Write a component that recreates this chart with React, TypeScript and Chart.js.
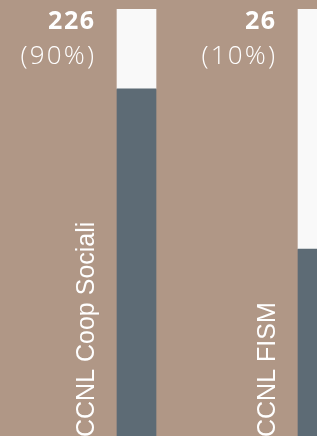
import React, { useEffect, useRef } from "react";
import { Chart, registerables } from "chart.js";

Chart.register(...registerables);

const categories = ["CCNL Coop Sociali", "CCNL FISM"];
const counts = [226, 26];
const percents = [90, 10];
const filledValues = [81.3, 43.8];
const remainderValues = [18.7, 56.2];

const BG = "#b09786";
const DARK = "#5d6b75";
const LIGHT = "#f9f9f9";

const labelPlugin = {
  id: "customLabels",
  afterDatasetsDraw(chart: any) {
    const ctx = chart.ctx;
    const base = chart.getDatasetMeta(0).data;
    const top = chart.getDatasetMeta(1).data;
    ctx.save();
    ctx.fillStyle = "#ffffff";
    categories.forEach((cat, i) => {
      const b = base[i];
      const t = top[i];
      const left = b.x - b.width / 2;
      const textRight = left - 23;
      const topY = t.y;
      ctx.textAlign = "right";
      ctx.textBaseline = "alphabetic";
      ctx.font = 'bold 25px "Open Sans"';
      (ctx as any).letterSpacing = "1.5px";
      ctx.fillText(String(counts[i]), textRight + 1.5, topY + 20);
      ctx.font = '300 26px "Open Sans"';
      (ctx as any).letterSpacing = "2.2px";
      ctx.fillText("(" + percents[i] + "%)", textRight + 2.2, topY + 55);
      (ctx as any).letterSpacing = "0px";
      ctx.save();
      ctx.translate(left - 23, chart.chartArea.bottom + 1);
      ctx.rotate(-Math.PI / 2);
      ctx.textAlign = "left";
      ctx.font = '25px "Liberation Sans"';
      ctx.fillText(cat, 0, 0);
      ctx.restore();
    });
    ctx.restore();
  },
};

export default function App() {
  const ref = useRef<HTMLCanvasElement | null>(null);
  useEffect(() => {
    document.body.style.margin = "0";
    document.body.style.background = BG;
    const chart = new Chart(ref.current as HTMLCanvasElement, {
      type: "bar",
      data: {
        labels: categories,
        datasets: [
          { data: filledValues, backgroundColor: DARK, borderWidth: 0, barThickness: 39 },
          { data: remainderValues, backgroundColor: LIGHT, borderWidth: 0, barThickness: 39 },
        ],
      },
      options: {
        animation: false,
        responsive: false,
        devicePixelRatio: 1,
        layout: { padding: { top: 9, left: 46, right: 12, bottom: 0 } },
        plugins: { legend: { display: false }, tooltip: { enabled: false } },
        scales: {
          x: { display: false, stacked: true, offset: true },
          y: { display: false, stacked: true, min: 0, max: 100 },
        },
      },
      plugins: [labelPlugin],
    });
    return () => chart.destroy();
  }, []);
  return (
    <div style={{ width: 317, height: 436, overflow: "hidden", background: BG }}>
      <canvas ref={ref} width={420} height={436} style={{ display: "block" }} />
    </div>
  );
}
